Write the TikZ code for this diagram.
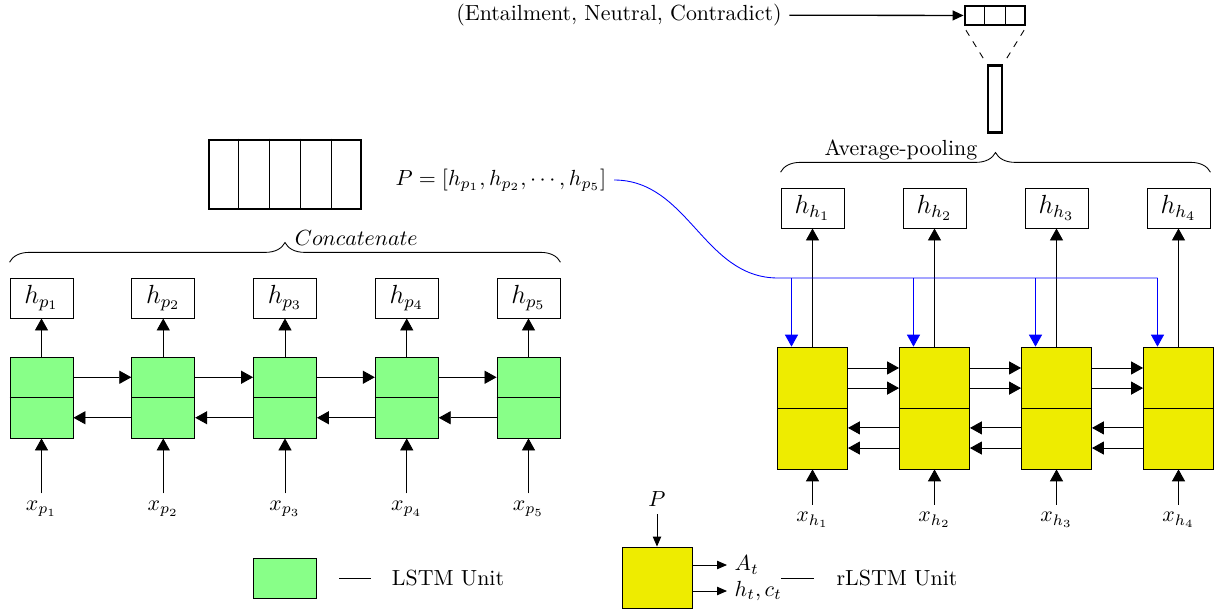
\documentclass[tikz,border=0pt]{standalone}
\usetikzlibrary{arrows.meta,decorations.pathreplacing,calc}

\definecolor{lstmgreen}{RGB}{136,255,136}
\definecolor{rlstmyellow}{RGB}{238,236,0}

\tikzset{
  tri/.style={-{Triangle[length=5.5pt,width=6pt]}},
  smalltri/.style={-{Triangle[length=4.5pt,width=3.8pt]}},
  lstmcell/.style={draw, fill=lstmgreen, minimum width=28.8pt, minimum height=37pt, inner sep=0pt},
  rlstmcell/.style={draw, fill=rlstmyellow, minimum width=32pt, minimum height=55.7pt, inner sep=0pt},
  hbox/.style={draw, minimum width=28.8pt, minimum height=18.3pt, inner sep=1pt, font=\large},
  vecbox/.style={draw, line width=1.3pt, inner sep=0pt},
  brace/.style={decorate, decoration={brace, amplitude=9pt}}
}

\begin{document}
\begin{tikzpicture}[x=0.457pt, y=-0.457pt]
\useasboundingbox (0,0) rectangle (1218,614);

% Premise BiLSTM
\foreach \i in {1,...,5} {
  \pgfmathsetmacro{\xx}{41.5+121.75*(\i-1)}
  \node[lstmcell] (lstm\i) at (\xx,397.5) {};
  \draw (lstm\i.west) -- (lstm\i.east);
  \node[hbox] (hp\i) at (\xx,298) {$h_{p_\i}$};
  \node (xp\i) at (\xx,509) {$x_{p_\i}$};
  \draw[tri] (lstm\i) -- (hp\i);
  \draw[tri] (xp\i) -- (lstm\i);
}
\foreach \i/\j in {1/2,2/3,3/4,4/5} {
  \draw[tri] ([yshift=9.25pt]lstm\i.east) -- ([yshift=9.25pt]lstm\j.west);
  \draw[tri] ([yshift=-9.25pt]lstm\j.west) -- ([yshift=-9.25pt]lstm\i.east);
}

% Concatenation
\draw[brace] ([yshift=7pt]hp1.north west) -- ([yshift=7pt]hp5.north east)
  node[midway, above right, xshift=1pt, yshift=4pt] {$Concatenate$};
\node[vecbox, minimum width=69.4pt, minimum height=31.5pt] (concat) at (285,174.5) {};
\foreach \k in {1,...,4}
  \draw ($(concat.north west)!\k/5!(concat.north east)$) -- ($(concat.south west)!\k/5!(concat.south east)$);
\node (pvec) at (501,180) {$P=[h_{p_1},h_{p_2},\cdots,h_{p_5}]$};

% Hypothesis rLSTM
\foreach \i in {1,...,4} {
  \pgfmathsetmacro{\xx}{812.5+122*(\i-1)}
  \node[rlstmcell] (rlstm\i) at (\xx,408) {};
  \draw (rlstm\i.west) -- (rlstm\i.east);
  \node[hbox] (hh\i) at (\xx,208) {$h_{h_\i}$};
  \node (xh\i) at (\xx,520) {$x_{h_\i}$};
  \draw[tri] (rlstm\i) -- (hh\i);
  \draw[tri] (xh\i) -- (rlstm\i);
  \coordinate (att\i) at ([xshift=-9.6pt]rlstm\i.north);
}
\foreach \i/\j in {1/2,2/3,3/4} {
  \draw[tri] ([yshift=18.3pt]rlstm\i.east) -- ([yshift=18.3pt]rlstm\j.west);
  \draw[tri] ([yshift=9.1pt]rlstm\i.east) -- ([yshift=9.1pt]rlstm\j.west);
  \draw[tri] ([yshift=-9.1pt]rlstm\j.west) -- ([yshift=-9.1pt]rlstm\i.east);
  \draw[tri] ([yshift=-18.3pt]rlstm\j.west) -- ([yshift=-18.3pt]rlstm\i.east);
}

% P fed into every rLSTM step
\coordinate (bus) at (778,278);
\draw[blue] (pvec.east) to[out=0, in=180] (bus) -- (bus -| att4);
\foreach \i in {1,...,4}
  \draw[blue, tri] (bus -| att\i) -- (att\i);

% Pooling and output
\draw[brace] ([yshift=7pt]hh1.north west) -- ([yshift=7pt]hh4.north east)
  node[midway, above left, xshift=-4.8pt, yshift=2pt] {Average-pooling};
\node[vecbox, minimum width=6.4pt, minimum height=31pt] (pool) at (995,99) {};
\node[vecbox, minimum width=27.4pt, minimum height=8.7pt] (out) at (995,15.5) {};
\foreach \k in {1,2}
  \draw ($(out.north west)!\k/3!(out.north east)$) -- ($(out.south west)!\k/3!(out.south east)$);
\draw[dashed, shorten <=2pt, shorten >=2pt] (out.south west) -- (pool.north west);
\draw[dashed, shorten <=2pt, shorten >=2pt] (out.south east) -- (pool.north east);
\node (cls) at (619,15) {(Entailment, Neutral, Contradict)};
\draw[-{Triangle[length=5pt,width=4.5pt]}, line width=0.6pt] (cls) -- (out);

% Legend
\node[lstmcell, minimum height=18.3pt] (leglstm) at (285,578) {};
\node (leglstmtxt) at (448,578) {LSTM Unit};
\draw ([xshift=-20.5pt]leglstmtxt.west) -- ([xshift=-6pt]leglstmtxt.west);

\node[rlstmcell, minimum height=27.9pt] (legr) at (657,577.5) {};
\node (legp) at (657,499) {$P$};
\draw[smalltri] (legp) -- (legr);
\node[anchor=west] (legat) at (727,565) {$A_t$};
\node[anchor=west] (leghc) at (727,591) {$h_t,c_t$};
\draw[smalltri] (legr.east |- legat) -- (legat);
\draw[smalltri] (legr.east |- leghc) -- (leghc);
\node (legrtxt) at (897,578) {rLSTM Unit};
\draw ([xshift=-22pt]legrtxt.west) -- ([xshift=-7pt]legrtxt.west);
\end{tikzpicture}
\end{document}
